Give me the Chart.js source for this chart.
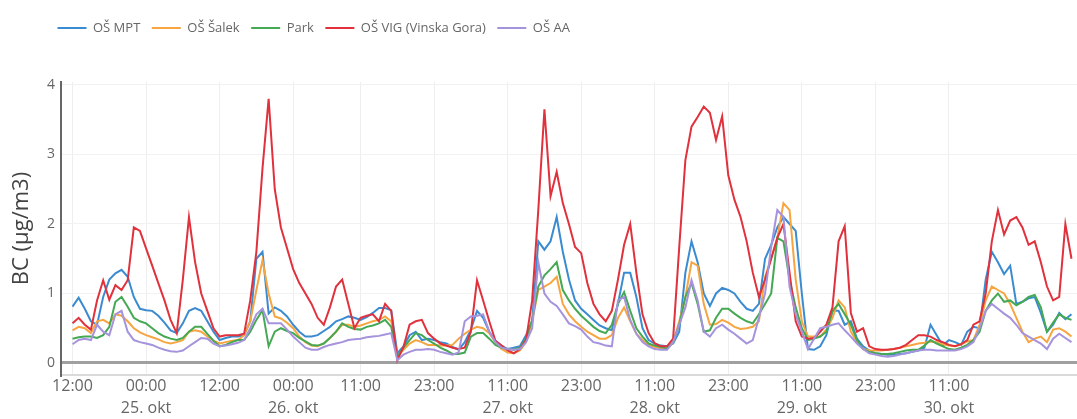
<!DOCTYPE html>
<html>
<head>
<meta charset="utf-8">
<script src="https://cdn.jsdelivr.net/npm/chart.js@4.4.1/dist/chart.umd.min.js"></script>
<style>
  body { margin: 0; background: #fff; }
  canvas { display: block; }
</style>
</head>
<body>
<canvas id="bc_chart" width="1077" height="419"></canvas>
<script>
// hourly samples, index 0 = 24. okt 12:00
var seriesNames = ['OŠ MPT', 'OŠ Šalek', 'Park', 'OŠ VIG (Vinska Gora)', 'OŠ AA'];

var tickIdx  = [0, 12, 24, 36, 47, 59, 71, 83, 95, 107, 119, 131, 143];
var tickTime = ['12:00', '00:00', '12:00', '00:00', '11:00', '23:00', '11:00', '23:00', '11:00', '23:00', '11:00', '23:00', '11:00'];
var tickDate = ['', '25. okt', '', '26. okt', '', '', '27. okt', '', '28. okt', '', '29. okt', '', '30. okt'];

var mpt = [
  0.81,0.94,0.78,0.6,0.55,0.95,1.2,1.29,1.34,1.24,
  0.95,0.78,0.76,0.75,0.68,0.58,0.47,0.43,0.57,0.75,
  0.79,0.75,0.6,0.45,0.33,0.36,0.38,0.38,0.4,0.6,
  1.5,1.6,0.71,0.8,0.75,0.67,0.55,0.45,0.38,0.38,
  0.4,0.46,0.52,0.6,0.63,0.67,0.65,0.62,0.66,0.72,
  0.79,0.79,0.76,0.14,0.24,0.4,0.45,0.33,0.35,0.33,
  0.3,0.28,0.23,0.19,0.3,0.48,0.75,0.65,0.45,0.32,
  0.25,0.2,0.22,0.24,0.4,0.6,1.75,1.63,1.75,2.1,
  1.6,1.2,0.9,0.78,0.7,0.62,0.54,0.5,0.47,0.85,
  1.3,1.3,0.95,0.5,0.33,0.28,0.25,0.24,0.28,0.45,
  1.3,1.75,1.45,1.0,0.82,1.0,1.08,1.05,1.0,0.88,
  0.78,0.75,0.85,1.5,1.7,1.95,2.1,2.0,1.9,1.0,
  0.2,0.19,0.24,0.4,0.75,0.75,0.55,0.6,0.35,0.24,
  0.18,0.14,0.13,0.12,0.12,0.13,0.14,0.16,0.18,0.22,
  0.55,0.4,0.25,0.33,0.3,0.26,0.45,0.52,0.5,1.2,
  1.6,1.45,1.28,1.4,0.85,0.88,0.93,0.95,0.72,0.45,
  0.55,0.72,0.63,0.7
];

var salek = [
  0.47,0.52,0.5,0.43,0.6,0.62,0.57,0.7,0.68,0.6,
  0.5,0.44,0.4,0.37,0.34,0.3,0.28,0.3,0.33,0.45,
  0.47,0.45,0.38,0.32,0.28,0.3,0.32,0.33,0.4,0.6,
  1.05,1.48,1.0,0.67,0.64,0.58,0.5,0.38,0.3,0.25,
  0.24,0.28,0.36,0.45,0.55,0.55,0.52,0.54,0.57,0.6,
  0.62,0.67,0.6,0.09,0.19,0.28,0.33,0.3,0.26,0.26,
  0.25,0.25,0.26,0.35,0.42,0.48,0.52,0.5,0.43,0.3,
  0.2,0.15,0.14,0.18,0.3,0.6,1.05,1.1,1.15,1.24,
  0.85,0.7,0.6,0.52,0.45,0.4,0.35,0.35,0.4,0.65,
  0.8,0.6,0.42,0.33,0.26,0.23,0.21,0.2,0.3,0.6,
  0.95,1.45,1.4,0.85,0.55,0.56,0.62,0.58,0.52,0.49,
  0.5,0.52,0.6,1.24,1.5,1.8,2.3,2.2,1.2,0.6,
  0.38,0.38,0.38,0.48,0.65,0.9,0.8,0.45,0.3,0.2,
  0.18,0.18,0.18,0.19,0.2,0.22,0.24,0.26,0.28,0.29,
  0.31,0.3,0.27,0.25,0.24,0.27,0.31,0.33,0.55,0.9,
  1.1,1.05,1.0,0.85,0.65,0.45,0.3,0.35,0.38,0.3,
  0.48,0.5,0.45,0.38
];

var park = [
  0.35,0.37,0.38,0.38,0.36,0.4,0.52,0.88,0.95,0.81,
  0.65,0.6,0.57,0.5,0.43,0.38,0.35,0.33,0.36,0.45,
  0.52,0.52,0.42,0.32,0.24,0.26,0.3,0.33,0.33,0.45,
  0.62,0.76,0.24,0.45,0.5,0.46,0.43,0.36,0.31,0.26,
  0.25,0.28,0.36,0.45,0.57,0.52,0.49,0.48,0.52,0.54,
  0.57,0.62,0.52,0.09,0.22,0.33,0.43,0.4,0.33,0.28,
  0.22,0.18,0.13,0.13,0.15,0.38,0.43,0.43,0.35,0.26,
  0.22,0.2,0.19,0.22,0.35,0.62,1.1,1.26,1.35,1.45,
  1.05,0.9,0.78,0.68,0.6,0.52,0.46,0.43,0.55,0.85,
  1.02,0.75,0.5,0.38,0.28,0.25,0.23,0.21,0.3,0.55,
  0.95,1.15,0.85,0.45,0.47,0.65,0.78,0.78,0.71,0.65,
  0.6,0.57,0.7,0.85,1.0,1.8,1.75,1.2,0.8,0.5,
  0.33,0.35,0.38,0.45,0.75,0.85,0.7,0.55,0.33,0.2,
  0.16,0.14,0.13,0.13,0.14,0.16,0.18,0.19,0.19,0.25,
  0.33,0.28,0.24,0.2,0.19,0.22,0.26,0.33,0.45,0.75,
  0.9,1.0,0.88,0.9,0.83,0.88,0.95,0.98,0.8,0.45,
  0.58,0.7,0.65,0.62
];

var vig = [
  0.57,0.65,0.55,0.48,0.9,1.19,0.91,1.12,1.05,1.19,
  1.95,1.9,1.65,1.4,1.15,0.9,0.62,0.43,1.2,2.1,
  1.45,1.0,0.75,0.5,0.38,0.4,0.4,0.4,0.42,0.9,
  1.6,2.8,3.8,2.5,1.95,1.65,1.35,1.15,1.0,0.85,
  0.65,0.55,0.8,1.1,1.2,0.85,0.5,0.65,0.68,0.7,
  0.6,0.85,0.75,0.04,0.23,0.55,0.6,0.62,0.43,0.35,
  0.28,0.25,0.22,0.2,0.22,0.45,1.19,0.9,0.6,0.32,
  0.25,0.18,0.14,0.2,0.33,0.9,2.2,3.65,2.4,2.75,
  2.3,2.0,1.67,1.58,1.15,0.85,0.7,0.6,0.75,1.2,
  1.7,2.0,1.3,0.7,0.43,0.28,0.24,0.24,0.35,1.67,
  2.92,3.4,3.54,3.69,3.6,3.21,3.55,2.7,2.35,2.1,
  1.75,1.3,0.95,1.2,1.5,1.8,2.0,1.3,0.6,0.38,
  0.35,0.36,0.45,0.55,0.8,1.75,1.97,0.72,0.45,0.5,
  0.24,0.2,0.19,0.19,0.2,0.22,0.26,0.33,0.4,0.4,
  0.38,0.33,0.3,0.26,0.24,0.27,0.33,0.55,0.6,1.0,
  1.75,2.2,1.85,2.05,2.1,1.95,1.7,1.75,1.45,1.1,
  0.9,0.95,2.0,1.5
];

var aa = [
  0.27,0.33,0.35,0.33,0.55,0.45,0.4,0.7,0.75,0.45,
  0.33,0.3,0.28,0.26,0.22,0.19,0.17,0.16,0.18,0.24,
  0.3,0.36,0.35,0.28,0.24,0.25,0.27,0.29,0.33,0.5,
  0.7,0.78,0.57,0.57,0.57,0.48,0.38,0.3,0.22,0.19,
  0.19,0.23,0.26,0.28,0.3,0.33,0.34,0.35,0.37,0.38,
  0.39,0.41,0.43,0.04,0.12,0.16,0.19,0.19,0.2,0.19,
  0.16,0.14,0.12,0.15,0.6,0.67,0.68,0.7,0.45,0.3,
  0.22,0.2,0.19,0.2,0.3,0.5,1.45,1.0,0.88,0.82,
  0.7,0.57,0.53,0.48,0.38,0.3,0.28,0.25,0.24,0.9,
  0.95,0.62,0.42,0.3,0.24,0.2,0.19,0.19,0.3,0.55,
  0.8,1.19,0.9,0.45,0.38,0.5,0.55,0.48,0.42,0.35,
  0.28,0.33,0.65,1.0,1.67,2.2,2.1,1.1,0.7,0.45,
  0.2,0.35,0.5,0.52,0.55,0.57,0.47,0.38,0.28,0.2,
  0.14,0.12,0.1,0.09,0.1,0.12,0.14,0.16,0.18,0.19,
  0.19,0.18,0.18,0.18,0.18,0.2,0.24,0.3,0.5,0.75,
  0.85,0.78,0.71,0.65,0.55,0.43,0.38,0.33,0.28,0.2,
  0.35,0.42,0.36,0.3
];

var seriesData = [mpt, salek, park, vig, aa];
var seriesColors = ['#3b8bd0', '#f6a541', '#45a853', '#e0313c', '#a593dd'];
var hours = mpt.map(function (v, i) { return i; });

// legend sits at the left, above a wide gap
var legendSpace = {
    id: 'legendSpace',
    beforeInit: function (chart) {
        var origFit = chart.legend.fit;
        chart.legend.fit = function () {
            origFit.call(this);
            this.height = 72;
        };
    },
    afterLayout: function (chart) {
        chart.legend.left = 46;
    }
};

var datasets = seriesNames.map(function (name, i) {
    return {
        label: name,
        data: seriesData[i],
        borderColor: seriesColors[i],
        backgroundColor: seriesColors[i],
        borderWidth: 2,
        pointRadius: 0,
        tension: 0,
        fill: false,
        order: 5 - i
    };
});

new Chart(document.getElementById('bc_chart'), {
    type: 'line',
    data: { labels: hours, datasets: datasets },
    plugins: [legendSpace],
    options: {
        responsive: false,
        animation: false,
        layout: { padding: { top: 10, left: 0, right: 0, bottom: 0 } },
        plugins: {
            tooltip: { enabled: false },
            legend: {
                position: 'top',
                align: 'start',
                labels: {
                    usePointStyle: true,
                    pointStyle: 'line',
                    pointStyleWidth: 29,
                    padding: 11.5,
                    color: '#666',
                    font: { family: 'Open Sans', size: 13 },
                    sort: function (a, b) { return a.datasetIndex - b.datasetIndex; }
                }
            }
        },
        scales: {
            x: {
                type: 'linear',
                min: -1.88,
                max: 163.9,
                afterBuildTicks: function (scale) {
                    scale.ticks = tickIdx.map(function (v) { return { value: v }; });
                },
                ticks: {
                    autoSkip: false,
                    maxRotation: 0,
                    padding: 0,
                    color: '#666',
                    font: { family: 'Open Sans', size: 16, lineHeight: '22px' },
                    callback: function (value) {
                        var k = tickIdx.indexOf(value);
                        return [tickTime[k], tickDate[k]];
                    }
                },
                grid: { color: '#eeeeee', drawTicks: false },
                border: { color: '#dadada', width: 2 }
            },
            y: {
                min: -0.173,
                max: 4.043,
                afterBuildTicks: function (scale) {
                    scale.ticks = [0, 1, 2, 3, 4].map(function (v) { return { value: v }; });
                },
                afterFit: function (scale) { scale.width = 61; },
                title: {
                    display: true,
                    text: 'BC (µg/m3)',
                    color: '#444',
                    padding: { top: 9, bottom: 0 },
                    font: { family: 'Open Sans', size: 22 }
                },
                ticks: {
                    padding: 6,
                    color: '#666',
                    font: { family: 'Open Sans', size: 14 }
                },
                grid: {
                    drawTicks: false,
                    color: function (ctx) { return ctx.tick && ctx.tick.value === 0 ? '#a0a0a0' : '#f2f2f2'; },
                    lineWidth: function (ctx) { return ctx.tick && ctx.tick.value === 0 ? 3 : 1; }
                },
                border: { color: '#666', width: 2 }
            }
        }
    }
});
</script>
</body>
</html>
